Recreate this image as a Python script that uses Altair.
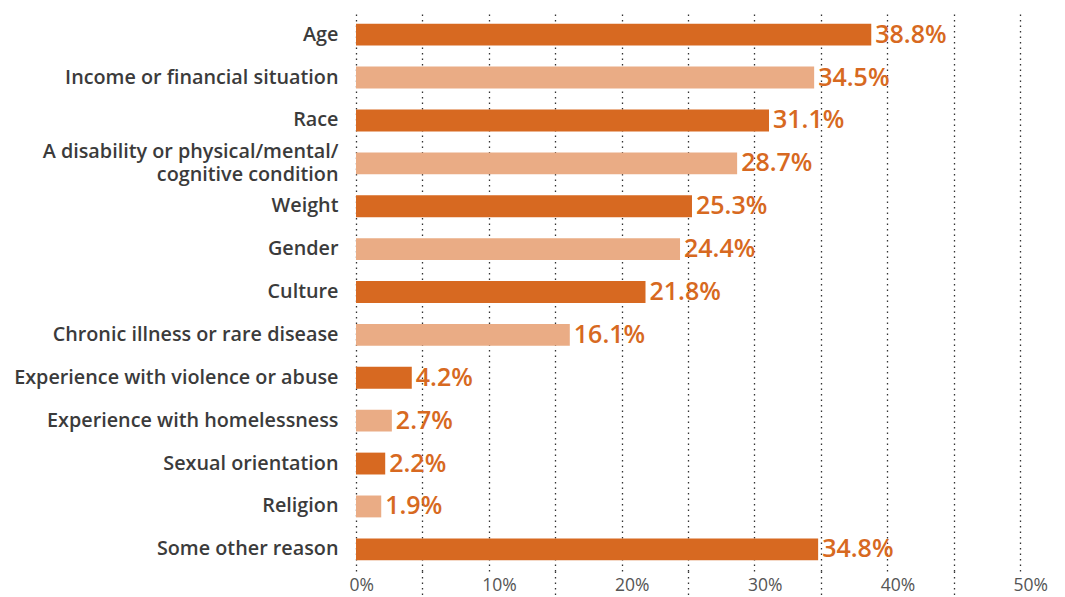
import altair as alt
import pandas as pd

categories = [
    "Age",
    "Income or financial situation",
    "Race",
    "A disability or physical/mental/|cognitive condition",
    "Weight",
    "Gender",
    "Culture",
    "Chronic illness or rare disease",
    "Experience with violence or abuse",
    "Experience with homelessness",
    "Sexual orientation",
    "Religion",
    "Some other reason",
]
values = [38.8, 34.5, 31.1, 28.7, 25.3, 24.4, 21.8, 16.1, 4.2, 2.7, 2.2, 1.9, 34.8]

DARK = "#D76921"
LIGHT = "#EAAC85"

df = pd.DataFrame({"category": categories, "value": values})
df["tone"] = ["dark" if i % 2 == 0 else "light" for i in range(len(df))]
df["label"] = [f"{v:.1f}%" for v in values]

y_enc = alt.Y(
    "category:N",
    sort=categories,
    scale=alt.Scale(paddingInner=0.49, paddingOuter=0.25),
    axis=alt.Axis(
        title=None,
        labelExpr="split(datum.label, '|')",
        labelFont="Open Sans",
        labelFontWeight=600,
        labelFontSize=19.8,
        labelColor="#3b3b3b",
        labelPadding=18,
        labelLineHeight=23,
        labelLimit=400,
        labelOffset={
            "condition": {"test": "indexof(datum.value, '|') >= 0", "value": -11},
            "value": 0,
        },
        ticks=False,
        domain=False,
        grid=False,
    ),
)

x_enc = alt.X(
    "value:Q",
    scale=alt.Scale(domain=[0, 50], nice=False),
    axis=alt.Axis(
        title=None,
        values=[0, 5, 10, 15, 20, 25, 30, 35, 40, 45, 50],
        labelExpr="datum.value % 10 == 0 ? datum.value + '%' : ''",
        labelFont="Open Sans",
        labelFontSize=17.5,
        labelColor="#555555",
        labelAlign="left",
        labelOffset=-7,
        labelPadding=-19,
        domain=False,
        grid=True,
        gridColor="#333333",
        gridDash=[1.5, 4],
        gridWidth=1.3,
        ticks=True,
        tickSize=24,
        tickWidth=1.3,
        tickDash=[1.5, 4],
        tickColor={
            "condition": {"test": "datum.value % 10 != 0", "value": "#333333"},
            "value": "transparent",
        },
    ),
)

bars = alt.Chart(df).mark_bar().encode(
    x=x_enc,
    y=y_enc,
    color=alt.Color(
        "tone:N",
        scale=alt.Scale(domain=["dark", "light"], range=[DARK, LIGHT]),
        legend=None,
    ),
)

texts = alt.Chart(df).mark_text(
    align="left",
    baseline="middle",
    dx=4,
    font="Open Sans",
    fontWeight=600,
    fontSize=25,
    color=DARK,
).encode(
    x="value:Q",
    y=alt.Y("category:N", sort=categories),
    text="label:N",
)

chart = (
    alt.layer(bars, texts)
    .properties(width=664, height=558, background="white")
    .configure_view(stroke=None)
)

chart.save("out.html", embed_options={"renderer": "svg", "actions": False})
